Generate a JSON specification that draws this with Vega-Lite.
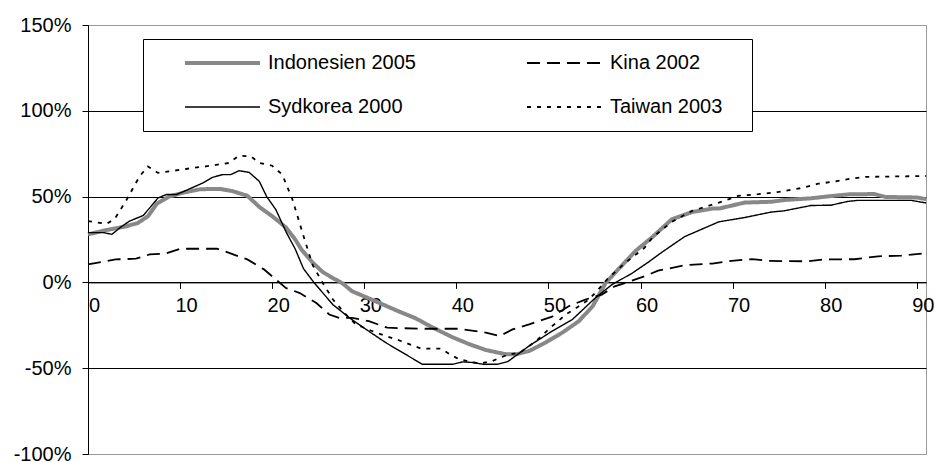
{
 "$schema": "https://vega.github.io/schema/vega-lite/v6.json",
 "width": 838,
 "height": 429,
 "autosize": {"type": "none"},
 "padding": {"left": 88, "top": 25, "right": 10, "bottom": 8},
 "background": "white",
 "config": {"font": "Liberation Sans", "view": {"stroke": "#999999", "strokeWidth": 1}},
 "datasets": {
  "d": [
   {"s":"Indonesien 2005","t":0,"v":28},{"s":"Indonesien 2005","t":2,"v":30.5},{"s":"Indonesien 2005","t":4,"v":32.5},{"s":"Indonesien 2005","t":5.4,"v":34.6},{"s":"Indonesien 2005","t":6.5,"v":38.5},{"s":"Indonesien 2005","t":7.5,"v":46},{"s":"Indonesien 2005","t":8.8,"v":50},{"s":"Indonesien 2005","t":10.5,"v":52.5},{"s":"Indonesien 2005","t":12.2,"v":54.3},{"s":"Indonesien 2005","t":14.3,"v":54.5},{"s":"Indonesien 2005","t":15.7,"v":53.2},{"s":"Indonesien 2005","t":17.3,"v":50.5},{"s":"Indonesien 2005","t":18.6,"v":44},{"s":"Indonesien 2005","t":20,"v":38.6},{"s":"Indonesien 2005","t":21.5,"v":32},{"s":"Indonesien 2005","t":22.5,"v":25},{"s":"Indonesien 2005","t":23.2,"v":19},{"s":"Indonesien 2005","t":24.4,"v":11.5},{"s":"Indonesien 2005","t":25.5,"v":6},{"s":"Indonesien 2005","t":26.6,"v":2.5},{"s":"Indonesien 2005","t":27.6,"v":-0.4},{"s":"Indonesien 2005","t":28.7,"v":-5.2},{"s":"Indonesien 2005","t":30.8,"v":-10},{"s":"Indonesien 2005","t":33.7,"v":-16.8},{"s":"Indonesien 2005","t":35.5,"v":-20.7},{"s":"Indonesien 2005","t":37.5,"v":-26.5},{"s":"Indonesien 2005","t":39.6,"v":-32},{"s":"Indonesien 2005","t":41.4,"v":-36},{"s":"Indonesien 2005","t":43.2,"v":-39.4},{"s":"Indonesien 2005","t":45.4,"v":-41.9},{"s":"Indonesien 2005","t":46.5,"v":-41.9},{"s":"Indonesien 2005","t":47.9,"v":-40},{"s":"Indonesien 2005","t":49.7,"v":-35},{"s":"Indonesien 2005","t":51.5,"v":-29.3},{"s":"Indonesien 2005","t":53.3,"v":-22.6},{"s":"Indonesien 2005","t":54.8,"v":-13.9},{"s":"Indonesien 2005","t":56.2,"v":-0.4},{"s":"Indonesien 2005","t":57.7,"v":8.3},{"s":"Indonesien 2005","t":59.5,"v":18.5},{"s":"Indonesien 2005","t":61.3,"v":26.5},{"s":"Indonesien 2005","t":63.4,"v":36.8},{"s":"Indonesien 2005","t":65.6,"v":41},{"s":"Indonesien 2005","t":67.8,"v":43},{"s":"Indonesien 2005","t":68.5,"v":43},{"s":"Indonesien 2005","t":71.3,"v":46.5},{"s":"Indonesien 2005","t":74.2,"v":47},{"s":"Indonesien 2005","t":75.6,"v":48},{"s":"Indonesien 2005","t":78.5,"v":49},{"s":"Indonesien 2005","t":80.5,"v":50.2},{"s":"Indonesien 2005","t":82.6,"v":51.3},{"s":"Indonesien 2005","t":85.4,"v":51.5},{"s":"Indonesien 2005","t":86.6,"v":49.8},{"s":"Indonesien 2005","t":90,"v":49.5},{"s":"Indonesien 2005","t":91,"v":48.5},
   {"s":"Sydkorea 2000","t":0,"v":29},{"s":"Sydkorea 2000","t":1.7,"v":29},{"s":"Sydkorea 2000","t":2.6,"v":28},{"s":"Sydkorea 2000","t":3.5,"v":32},{"s":"Sydkorea 2000","t":4.5,"v":35.7},{"s":"Sydkorea 2000","t":6,"v":39},{"s":"Sydkorea 2000","t":6.7,"v":43.4},{"s":"Sydkorea 2000","t":7.6,"v":49.2},{"s":"Sydkorea 2000","t":8.5,"v":51.2},{"s":"Sydkorea 2000","t":9.6,"v":51.2},{"s":"Sydkorea 2000","t":10.6,"v":53.5},{"s":"Sydkorea 2000","t":12.5,"v":58},{"s":"Sydkorea 2000","t":13.5,"v":61.2},{"s":"Sydkorea 2000","t":14.6,"v":62.8},{"s":"Sydkorea 2000","t":15.5,"v":62.8},{"s":"Sydkorea 2000","t":16.4,"v":65.1},{"s":"Sydkorea 2000","t":17.5,"v":64.1},{"s":"Sydkorea 2000","t":18.6,"v":58.9},{"s":"Sydkorea 2000","t":19.4,"v":50},{"s":"Sydkorea 2000","t":20.4,"v":42.4},{"s":"Sydkorea 2000","t":21.5,"v":29.5},{"s":"Sydkorea 2000","t":22.5,"v":19.5},{"s":"Sydkorea 2000","t":23.4,"v":8},{"s":"Sydkorea 2000","t":24.6,"v":-0.5},{"s":"Sydkorea 2000","t":26.6,"v":-13},{"s":"Sydkorea 2000","t":28.4,"v":-20.7},{"s":"Sydkorea 2000","t":30.2,"v":-27.4},{"s":"Sydkorea 2000","t":32.3,"v":-35},{"s":"Sydkorea 2000","t":34.5,"v":-42},{"s":"Sydkorea 2000","t":36.3,"v":-47.7},{"s":"Sydkorea 2000","t":39.6,"v":-47.7},{"s":"Sydkorea 2000","t":40.7,"v":-46.3},{"s":"Sydkorea 2000","t":41.8,"v":-46.7},{"s":"Sydkorea 2000","t":42.9,"v":-47.7},{"s":"Sydkorea 2000","t":44.5,"v":-47.7},{"s":"Sydkorea 2000","t":45.6,"v":-46.1},{"s":"Sydkorea 2000","t":47.9,"v":-37},{"s":"Sydkorea 2000","t":50.4,"v":-28.4},{"s":"Sydkorea 2000","t":52.6,"v":-21.6},{"s":"Sydkorea 2000","t":55.1,"v":-9},{"s":"Sydkorea 2000","t":56.9,"v":-1.3},{"s":"Sydkorea 2000","t":59.1,"v":5.4},{"s":"Sydkorea 2000","t":60.9,"v":12},{"s":"Sydkorea 2000","t":62.3,"v":17.5},{"s":"Sydkorea 2000","t":64.8,"v":26.7},{"s":"Sydkorea 2000","t":68.5,"v":35.3},{"s":"Sydkorea 2000","t":71.3,"v":37.8},{"s":"Sydkorea 2000","t":74.2,"v":41},{"s":"Sydkorea 2000","t":75.6,"v":41.7},{"s":"Sydkorea 2000","t":78.5,"v":44.8},{"s":"Sydkorea 2000","t":80.7,"v":45},{"s":"Sydkorea 2000","t":82.5,"v":47.2},{"s":"Sydkorea 2000","t":83.6,"v":47.8},{"s":"Sydkorea 2000","t":89.4,"v":47.8},{"s":"Sydkorea 2000","t":91,"v":46.3},
   {"s":"Kina 2002","t":0,"v":10.5},{"s":"Kina 2002","t":3,"v":13.4},{"s":"Kina 2002","t":5.2,"v":13.8},{"s":"Kina 2002","t":6.7,"v":16.3},{"s":"Kina 2002","t":8.5,"v":16.9},{"s":"Kina 2002","t":10,"v":19.6},{"s":"Kina 2002","t":14,"v":19.6},{"s":"Kina 2002","t":15.1,"v":17.6},{"s":"Kina 2002","t":17.3,"v":13.4},{"s":"Kina 2002","t":19.1,"v":7.6},{"s":"Kina 2002","t":20.6,"v":0.8},{"s":"Kina 2002","t":21.5,"v":-3.3},{"s":"Kina 2002","t":23,"v":-6.2},{"s":"Kina 2002","t":24.8,"v":-12},{"s":"Kina 2002","t":26.2,"v":-18.7},{"s":"Kina 2002","t":27.3,"v":-20.7},{"s":"Kina 2002","t":28.7,"v":-20.7},{"s":"Kina 2002","t":30.5,"v":-22.6},{"s":"Kina 2002","t":32.5,"v":-26.4},{"s":"Kina 2002","t":36,"v":-27},{"s":"Kina 2002","t":40.3,"v":-27},{"s":"Kina 2002","t":43.2,"v":-29.3},{"s":"Kina 2002","t":44.7,"v":-31.3},{"s":"Kina 2002","t":46.1,"v":-27.4},{"s":"Kina 2002","t":47.9,"v":-24.5},{"s":"Kina 2002","t":50.4,"v":-20},{"s":"Kina 2002","t":52.2,"v":-13.9},{"s":"Kina 2002","t":54,"v":-10},{"s":"Kina 2002","t":55.8,"v":-7.1},{"s":"Kina 2002","t":57.2,"v":-2.3},{"s":"Kina 2002","t":58.3,"v":-0.4},{"s":"Kina 2002","t":60.4,"v":3.5},{"s":"Kina 2002","t":61.9,"v":6.8},{"s":"Kina 2002","t":64.8,"v":10},{"s":"Kina 2002","t":67.8,"v":11},{"s":"Kina 2002","t":69.9,"v":12.6},{"s":"Kina 2002","t":72.1,"v":13.6},{"s":"Kina 2002","t":73.9,"v":12.5},{"s":"Kina 2002","t":78.2,"v":12.3},{"s":"Kina 2002","t":80,"v":13.4},{"s":"Kina 2002","t":83.2,"v":13.5},{"s":"Kina 2002","t":85.8,"v":15.2},{"s":"Kina 2002","t":88.3,"v":15.6},{"s":"Kina 2002","t":91,"v":17},
   {"s":"Taiwan 2003","t":0,"v":35.7},{"s":"Taiwan 2003","t":2,"v":34.1},{"s":"Taiwan 2003","t":2.9,"v":37},{"s":"Taiwan 2003","t":4.1,"v":47.3},{"s":"Taiwan 2003","t":5.6,"v":61.8},{"s":"Taiwan 2003","t":6.5,"v":67.6},{"s":"Taiwan 2003","t":7.6,"v":63.8},{"s":"Taiwan 2003","t":8.8,"v":64.7},{"s":"Taiwan 2003","t":11.4,"v":66.7},{"s":"Taiwan 2003","t":12.8,"v":67.6},{"s":"Taiwan 2003","t":15.3,"v":69.6},{"s":"Taiwan 2003","t":16.4,"v":73.8},{"s":"Taiwan 2003","t":17.7,"v":73.4},{"s":"Taiwan 2003","t":18.6,"v":69.6},{"s":"Taiwan 2003","t":20,"v":68},{"s":"Taiwan 2003","t":21.1,"v":62.8},{"s":"Taiwan 2003","t":22.2,"v":48.3},{"s":"Taiwan 2003","t":22.9,"v":36},{"s":"Taiwan 2003","t":23.4,"v":27},{"s":"Taiwan 2003","t":24.4,"v":10},{"s":"Taiwan 2003","t":25.5,"v":-0.4},{"s":"Taiwan 2003","t":26.6,"v":-10},{"s":"Taiwan 2003","t":28,"v":-18.7},{"s":"Taiwan 2003","t":29.1,"v":-24.5},{"s":"Taiwan 2003","t":31.3,"v":-29.3},{"s":"Taiwan 2003","t":33.9,"v":-34},{"s":"Taiwan 2003","t":36.2,"v":-38.6},{"s":"Taiwan 2003","t":38.3,"v":-38.6},{"s":"Taiwan 2003","t":39.3,"v":-41.9},{"s":"Taiwan 2003","t":40.3,"v":-44.8},{"s":"Taiwan 2003","t":42.5,"v":-47.3},{"s":"Taiwan 2003","t":43.9,"v":-45.8},{"s":"Taiwan 2003","t":45.4,"v":-42.5},{"s":"Taiwan 2003","t":46.9,"v":-40.9},{"s":"Taiwan 2003","t":48.7,"v":-34},{"s":"Taiwan 2003","t":50.4,"v":-25.5},{"s":"Taiwan 2003","t":51.9,"v":-18.7},{"s":"Taiwan 2003","t":53.3,"v":-13.9},{"s":"Taiwan 2003","t":54.4,"v":-10},{"s":"Taiwan 2003","t":55.4,"v":-4.2},{"s":"Taiwan 2003","t":56.5,"v":2.5},{"s":"Taiwan 2003","t":58.3,"v":11.2},{"s":"Taiwan 2003","t":60.4,"v":20},{"s":"Taiwan 2003","t":61.3,"v":26.2},{"s":"Taiwan 2003","t":63.4,"v":35.3},{"s":"Taiwan 2003","t":65.6,"v":41.7},{"s":"Taiwan 2003","t":68.5,"v":46.5},{"s":"Taiwan 2003","t":70.6,"v":50.4},{"s":"Taiwan 2003","t":72.8,"v":51.4},{"s":"Taiwan 2003","t":75,"v":52.7},{"s":"Taiwan 2003","t":77.5,"v":55},{"s":"Taiwan 2003","t":79.3,"v":57.5},{"s":"Taiwan 2003","t":80.7,"v":58.5},{"s":"Taiwan 2003","t":82.9,"v":60.5},{"s":"Taiwan 2003","t":84.5,"v":61.5},{"s":"Taiwan 2003","t":91,"v":62}
  ]
 },
 "data": {"name": "d"},
 "mark": {"type": "line", "interpolate": "linear"},
 "encoding": {
  "x": {
   "field": "t", "type": "quantitative",
   "scale": {"domain": [0, 91], "nice": false, "zero": false},
   "axis": {"values": [0,10,20,30,40,50,60,70,80,90], "title": null, "grid": false, "offset": -171.6,
    "domainColor": "black", "tickColor": "black", "tickSize": 6, "labelFontSize": 20, "labelColor": "black",
    "labelPadding": 7, "labelOffset": 6, "labelFlush": false, "labelOverlap": false}
  },
  "y": {
   "field": "v", "type": "quantitative",
   "scale": {"domain": [-100, 150], "nice": false, "zero": false},
   "axis": {"values": [-100,-50,0,50,100,150], "labelExpr": "datum.value + '%'", "title": null, "grid": true,
    "gridColor": {"condition": {"test": "datum.value === 150 || datum.value === -100", "value": "transparent"}, "value": "black"},
    "gridOpacity": 1, "domainColor": "black", "tickColor": "black", "tickSize": 6, "labelPadding": 11,
    "labelFontSize": 20, "labelColor": "black", "labelOverlap": false}
  },
  "color": {
   "field": "s", "type": "nominal",
   "scale": {"domain": ["Indonesien 2005","Sydkorea 2000","Kina 2002","Taiwan 2003"], "range": ["#888888","black","black","black"]},
   "legend": {"orient": "none", "legendX": 55, "legendY": 14, "direction": "vertical", "columns": 2, "title": null,
    "symbolType": "stroke", "symbolSize": 5625, "clipHeight": 20, "labelFontSize": 20, "labelColor": "black",
    "labelLimit": 400, "padding": 14, "rowPadding": 24, "columnPadding": 83, "symbolOffset": 26, "labelOffset": 6,
    "labelExpr": "datum.label == 'Taiwan 2003' ? datum.label + '\u2800' : datum.label",
    "strokeColor": "black", "fillColor": "white", "cornerRadius": 0}
  },
  "strokeDash": {
   "field": "s", "type": "nominal",
   "scale": {"domain": ["Indonesien 2005","Sydkorea 2000","Kina 2002","Taiwan 2003"], "range": [[1,0],[1,0],[13,7],[4,6]]}
  },
  "strokeWidth": {
   "field": "s", "type": "nominal",
   "scale": {"type": "ordinal", "domain": ["Indonesien 2005","Sydkorea 2000","Kina 2002","Taiwan 2003"], "range": [4,1.4,1.8,1.8]}
  }
 }
}
